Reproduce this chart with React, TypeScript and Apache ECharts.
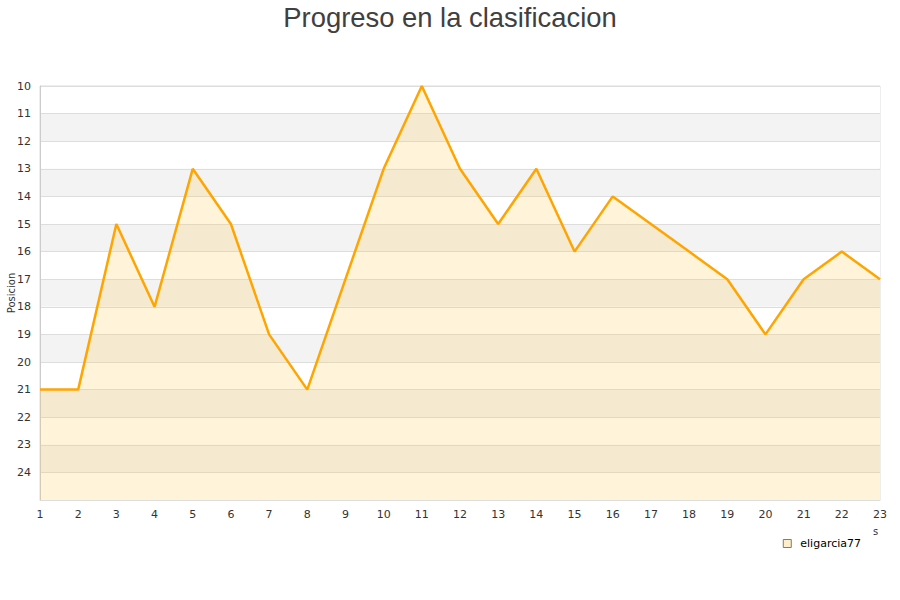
import React, { useEffect, useRef } from "react";
import * as echarts from "echarts";

const jornadas = ["1","2","3","4","5","6","7","8","9","10","11","12","13","14","15","16","17","18","19","20","21","22","23"];
const posiciones = [21, 21, 15, 18, 13, 15, 19, 21, 17, 13, 10, 13, 15, 13, 16, 14, 15, 16, 17, 19, 17, 16, 17];
const seriesName = "eligarcia77";
const titleText = "Progreso en la clasificacion";
const yAxisName = "Posicion";

export default function App() {
  const ref = useRef<HTMLDivElement>(null);
  useEffect(() => {
    if (!ref.current) return;
    const chart = echarts.init(ref.current, null, { renderer: "svg" });
    chart.setOption({
      animation: false,
      backgroundColor: "#fff",
      title: {
        text: titleText,
        left: "center",
        top: -1,
        textStyle: { fontFamily: "Liberation Sans", fontSize: 27.4, fontWeight: "normal", color: "#404040" },
      },
      grid: {
        left: 40, right: 20, top: 86, bottom: 100,
        outerBoundsMode: "none",
        containLabel: false,
        show: true, borderColor: "#dddddd", borderWidth: 1, backgroundColor: "transparent",
      },
      legend: {
        right: 34,
        top: 533,
        icon: "rect",
        itemWidth: 8,
        itemHeight: 8,
        itemGap: 5,
        textStyle: { fontFamily: "DejaVu Sans", fontSize: 11, color: "#000", padding: [0, 0, 0, 4] },
        data: [{ name: seriesName, itemStyle: { color: "#FFEECB", borderColor: "#8a7a5a", borderWidth: 1 } }],
      },
      xAxis: {
        type: "category",
        data: jornadas,
        boundaryGap: false,
        axisLine: { show: true, lineStyle: { color: "#dddddd" } },
        axisTick: { show: false },
        axisLabel: { fontFamily: "DejaVu Sans", fontSize: 11, color: "#333", margin: 9 },
        splitLine: { show: false },
      },
      yAxis: {
        type: "value",
        inverse: true,
        min: 10,
        max: 25,
        interval: 1,
        axisLine: { show: true, lineStyle: { color: "#cccccc" } },
        axisTick: { show: false },
        axisLabel: {
          fontFamily: "DejaVu Sans",
          fontSize: 11,
          color: "#333",
          margin: 9,
          formatter: (v: number) => (v === 25 ? "" : String(v)),
        },
        splitLine: { show: true, lineStyle: { color: "#dddddd" } },
        splitArea: { show: true, areaStyle: { color: ["#ffffff", "#f3f3f3"] } },
      },
      graphic: [
        {
          type: "text",
          x: 11,
          y: 293,
          rotation: Math.PI / 2,
          style: {
            text: yAxisName,
            fontFamily: "DejaVu Sans",
            fontSize: 10,
            fill: "#333",
            align: "center",
            verticalAlign: "middle",
          },
        },
        {
          type: "text",
          left: 873,
          top: 526,
          style: { text: "s", fontFamily: "DejaVu Sans", fontSize: 10, fill: "#333" },
        },
      ],
      series: [
        {
          name: seriesName,
          type: "line",
          data: posiciones,
          symbol: "none",
          lineStyle: { color: "#FFA500", width: 2.5 },
          itemStyle: { color: "#FFA500" },
          areaStyle: { color: "rgba(255,200,80,0.3)", origin: "end" },
        },
      ],
    });
    return () => chart.dispose();
  }, []);
  return (
    <div style={{ position: "fixed", left: 0, top: 0, width: 900, height: 600 }}>
      <div ref={ref} style={{ width: 900, height: 600 }} />
    </div>
  );
}
